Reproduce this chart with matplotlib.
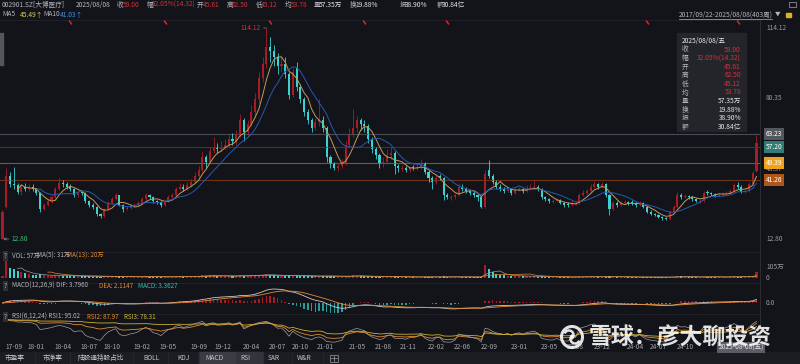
import numpy as np
import pandas as pd
import matplotlib.pyplot as plt
from matplotlib.patches import Rectangle, Circle, Arc
from matplotlib.transforms import blended_transform_factory

plt.rcParams['font.family'] = ['Noto Sans CJK SC', 'DejaVu Sans']

# ---- data (2-week candles) ----
opens = [12.8, 28.0, 43.0, 39.0, 38.5, 35.5, 38.0, 37.0, 38.0, 37.0,
         35.0, 27.0, 29.0, 31.0, 33.0, 37.0, 39.5, 39.0, 38.0, 37.0,
         34.0, 35.5, 35.0, 31.0, 29.0, 28.0, 25.0, 24.0, 27.0, 30.0,
         32.0, 33.8, 29.0, 27.0, 27.5, 28.5, 29.0, 30.0, 32.0, 34.0,
         33.0, 31.0, 30.5, 29.0, 31.0, 33.0, 34.0, 37.0, 38.0, 37.0,
         38.5, 40.0, 43.0, 46.0, 52.0, 50.0, 55.0, 57.0, 56.0, 57.0,
         58.0, 61.0, 60.0, 63.0, 70.0, 64.0, 68.0, 74.0, 80.0, 90.0,
         97.0, 105.0, 103.0, 100.0, 96.0, 97.0, 92.0, 82.0, 95.0, 86.0,
         80.0, 74.0, 70.0, 66.0, 69.0, 70.0, 66.0, 52.0, 49.0, 47.0,
         48.0, 49.0, 58.0, 63.0, 66.0, 70.0, 68.0, 67.0, 61.0, 56.0,
         53.0, 49.0, 50.0, 53.0, 54.0, 48.0, 46.5, 47.0, 46.0, 47.5,
         47.0, 47.5, 49.0, 45.0, 42.0, 40.0, 43.0, 42.0, 34.0, 32.5,
         33.0, 34.0, 38.0, 37.0, 36.0, 35.0, 34.0, 33.0, 28.0, 46.0,
         43.0, 40.0, 38.0, 37.0, 36.0, 37.0, 35.0, 36.5, 37.0, 36.0,
         37.0, 37.5, 38.0, 37.0, 33.0, 32.0, 30.5, 31.0, 31.5, 30.0,
         29.5, 29.0, 29.5, 30.0, 34.0, 35.0, 36.0, 38.0, 39.0, 38.0,
         39.0, 34.0, 27.0, 30.0, 29.0, 30.0, 30.5, 30.5, 30.0, 29.0,
         30.0, 28.0, 26.0, 25.0, 24.5, 23.5, 23.0, 22.5, 26.0, 28.0,
         34.0, 33.0, 33.5, 33.0, 32.0, 30.5, 31.0, 35.5, 35.0, 34.5,
         33.5, 34.0, 34.5, 35.0, 36.0, 38.5, 38.0, 35.5, 36.0, 39.0,
         45.61]
highs = [26.5, 47.0, 45.0, 47.5, 39.5, 39.0, 39.5, 39.0, 39.0, 37.5,
         35.5, 30.0, 32.0, 34.0, 38.0, 42.0, 41.0, 40.0, 39.0, 37.5,
         36.0, 36.5, 35.5, 31.5, 30.0, 28.5, 25.5, 27.5, 31.0, 33.0,
         35.0, 34.0, 29.5, 28.5, 29.5, 30.0, 31.0, 33.0, 35.0, 34.5,
         33.5, 31.5, 31.0, 32.0, 34.0, 35.0, 38.0, 39.5, 39.0, 40.0,
         41.5, 45.0, 48.0, 55.0, 53.0, 57.0, 62.0, 59.0, 60.0, 61.0,
         63.0, 63.5, 65.0, 73.0, 71.0, 70.0, 77.0, 83.0, 93.0, 100.0,
         114.12, 110.0, 106.0, 102.0, 101.0, 100.0, 93.0, 95.0, 98.0, 87.0,
         81.0, 75.0, 71.0, 71.0, 80.0, 72.0, 67.0, 53.0, 50.0, 49.5,
         51.0, 60.0, 66.0, 75.0, 72.0, 71.0, 70.0, 68.0, 62.0, 57.0,
         54.0, 52.0, 56.0, 57.0, 55.0, 49.0, 48.5, 48.0, 48.0, 48.5,
         49.0, 51.0, 50.0, 46.0, 43.0, 43.5, 44.0, 42.5, 35.0, 34.0,
         35.0, 39.5, 39.0, 38.0, 37.0, 36.0, 34.5, 33.5, 46.0, 50.7,
         44.0, 41.0, 39.0, 38.0, 38.0, 37.5, 37.5, 38.0, 37.5, 38.5,
         39.0, 41.0, 38.5, 37.5, 33.5, 32.5, 32.0, 32.5, 32.0, 30.5,
         30.5, 31.0, 31.0, 35.0, 36.5, 37.0, 39.0, 40.5, 39.5, 40.0,
         39.5, 34.5, 31.0, 31.0, 31.0, 31.5, 31.0, 31.5, 30.5, 31.0,
         30.5, 28.5, 26.5, 25.5, 25.0, 24.0, 23.5, 26.5, 29.0, 35.5,
         35.0, 34.5, 34.0, 33.5, 32.5, 32.0, 36.0, 36.5, 35.5, 35.0,
         35.0, 35.5, 36.0, 37.0, 39.5, 40.0, 38.5, 37.0, 40.0, 45.5,
         62.5]
lows = [12.8, 27.5, 38.0, 37.0, 34.5, 34.0, 36.0, 36.0, 36.0, 34.0,
        26.0, 26.5, 28.5, 30.0, 32.5, 36.5, 38.0, 37.0, 36.0, 33.0,
        33.0, 34.0, 30.0, 28.0, 27.0, 24.0, 23.0, 23.5, 26.5, 29.5,
        31.5, 28.5, 26.0, 26.5, 27.0, 28.0, 28.5, 29.5, 31.5, 32.0,
        30.0, 29.5, 28.0, 28.5, 30.5, 32.5, 33.5, 36.5, 36.0, 36.5,
        38.0, 39.5, 42.0, 45.0, 47.0, 49.0, 54.0, 54.0, 55.0, 56.0,
        57.0, 58.0, 58.0, 62.0, 60.0, 62.0, 67.0, 72.0, 78.0, 88.0,
        95.0, 98.0, 96.0, 92.0, 93.0, 90.0, 80.0, 81.0, 84.0, 78.0,
        72.0, 68.0, 64.0, 65.0, 67.0, 64.0, 50.0, 47.0, 46.0, 45.5,
        47.0, 48.5, 57.0, 62.0, 64.0, 65.0, 64.0, 59.0, 54.0, 51.0,
        47.0, 47.5, 49.0, 51.0, 44.0, 45.0, 45.5, 45.0, 45.0, 46.0,
        46.0, 46.5, 44.0, 40.0, 37.0, 39.0, 41.0, 31.5, 32.0, 31.5,
        32.0, 33.5, 36.0, 35.0, 34.0, 33.0, 31.0, 27.5, 27.8, 42.0,
        39.0, 37.0, 36.0, 35.0, 35.5, 34.0, 34.5, 36.0, 35.0, 35.5,
        36.5, 37.0, 36.0, 32.0, 31.0, 30.0, 30.0, 30.5, 29.5, 28.0,
        28.0, 28.5, 29.0, 29.5, 33.5, 34.5, 35.5, 37.5, 37.0, 37.5,
        33.0, 24.5, 26.5, 28.0, 28.5, 29.5, 29.0, 29.0, 28.0, 28.5,
        27.5, 25.5, 24.5, 24.0, 23.0, 22.0, 21.8, 22.0, 25.5, 27.5,
        32.0, 32.5, 32.0, 31.0, 30.5, 30.0, 30.5, 34.0, 33.5, 33.0,
        33.0, 33.5, 34.0, 34.5, 35.5, 37.0, 35.0, 35.0, 35.5, 38.5,
        45.12]
closes = [26.0, 43.0, 39.0, 38.5, 35.5, 38.0, 37.0, 38.0, 37.0, 35.0,
          27.0, 29.0, 31.0, 33.0, 37.0, 39.5, 39.0, 38.0, 37.0, 34.0,
          35.0, 35.0, 31.0, 29.0, 28.0, 25.0, 24.0, 27.0, 30.0, 32.0,
          33.8, 29.0, 27.0, 27.5, 28.5, 29.0, 30.0, 32.0, 34.0, 33.0,
          31.0, 30.5, 29.0, 31.0, 33.0, 34.0, 37.0, 38.0, 37.0, 38.5,
          40.0, 43.0, 46.0, 52.0, 50.0, 55.0, 57.0, 56.0, 57.0, 58.0,
          61.0, 60.0, 63.0, 70.0, 64.0, 68.0, 74.0, 80.0, 90.0, 97.0,
          105.0, 103.0, 100.0, 96.0, 97.0, 92.0, 82.0, 93.0, 86.0, 80.0,
          74.0, 70.0, 66.0, 69.0, 70.0, 66.0, 52.0, 49.0, 47.0, 48.0,
          49.0, 58.0, 63.0, 66.0, 70.0, 68.0, 67.0, 61.0, 56.0, 53.0,
          49.0, 50.0, 53.0, 54.0, 48.0, 47.0, 47.0, 46.0, 47.0, 47.0,
          47.5, 49.0, 45.0, 42.0, 40.0, 42.0, 42.0, 34.0, 33.0, 33.0,
          34.0, 38.0, 37.0, 36.0, 35.0, 34.0, 33.0, 28.0, 44.0, 43.0,
          40.0, 38.0, 37.0, 36.0, 37.0, 35.0, 36.5, 37.0, 36.0, 37.0,
          37.5, 38.0, 37.0, 33.0, 32.0, 31.0, 31.0, 31.5, 30.0, 29.0,
          29.0, 30.0, 30.0, 34.0, 35.0, 36.0, 38.0, 39.0, 38.0, 39.0,
          34.0, 27.0, 30.0, 29.0, 30.0, 30.5, 30.0, 30.0, 29.0, 30.0,
          28.0, 26.0, 25.0, 24.5, 23.5, 23.0, 22.5, 26.0, 28.0, 34.0,
          33.0, 33.5, 33.0, 32.0, 31.0, 31.0, 35.0, 35.0, 34.5, 34.0,
          34.0, 34.5, 35.0, 36.0, 38.5, 38.0, 35.5, 36.0, 39.0, 44.68,
          59.0]
volumes = [20, 170, 95, 90, 70, 55, 45, 40, 30, 28,
           35, 25, 22, 20, 28, 30, 22, 18, 16, 18,
           15, 14, 16, 14, 13, 15, 12, 14, 16, 15,
           18, 16, 12, 10, 10, 9, 10, 12, 14, 12,
           11, 10, 9, 10, 12, 11, 15, 14, 12, 13,
           15, 18, 20, 26, 22, 24, 25, 20, 18, 17,
           19, 16, 18, 25, 22, 20, 24, 28, 32, 30,
           34, 28, 24, 22, 20, 22, 25, 20, 22, 18,
           17, 15, 14, 16, 18, 15, 22, 18, 14, 12,
           13, 20, 22, 24, 20, 16, 14, 15, 14, 12,
           12, 10, 12, 11, 14, 10, 9, 9, 8, 9,
           9, 10, 11, 10, 11, 9, 9, 14, 10, 9,
           9, 12, 10, 9, 8, 8, 8, 12, 125, 85,
           55, 38, 30, 24, 22, 20, 18, 22, 16, 15,
           14, 16, 13, 14, 11, 10, 9, 9, 8, 8,
           8, 9, 8, 14, 12, 12, 14, 13, 11, 12,
           13, 16, 11, 9, 8, 8, 8, 7, 8, 8,
           8, 8, 7, 7, 7, 8, 8, 12, 13, 18,
           14, 11, 10, 9, 9, 8, 12, 10, 9, 9,
           8, 9, 10, 11, 14, 13, 12, 11, 15, 22,
           57]

tick_pos = [3, 9, 16, 23, 29, 37, 44, 52, 58.5, 66, 73, 79, 85.5, 94, 101,
            107.5, 115, 122, 129, 137, 145, 152, 159, 168, 174, 181]
tick_lab = ['17-09', '18-01', '18-04', '18-07', '18-10', '19-02', '19-05', '19-09',
            '19-12', '20-04', '20-07', '20-10', '21-01', '21-05', '21-08', '21-11',
            '22-02', '22-06', '22-09', '23-01', '23-05', '23-08', '23-12', '24-04',
            '24-07', '24-10']
event_idx = [18, 43, 71, 96, 118, 171, 195]

levels = [63.23, 57.20, 49.39, 41.26]
level_line = ['#4a4c53', '#27403f', '#7a5c22', '#6e3417']
level_box = ['#55575e', '#2f7d74', '#f0a21e', '#b0561a']
axis_prices = [114.12, 80.35, 48.57, 12.80]

tip_labels = ['收', '幅', '开', '高', '低', '均', '量', '换', '振', '额']
tip_values = ['59.00', '32.05%(14.32)', '45.61', '62.50', '45.12', '53.78',
              '57.35万', '19.88%', '38.90%', '30.84亿']
tabs = ['市盈率', '市净率', '陆股通持股占比', 'BOLL', 'KDJ', 'MACD', 'RSI', 'SAR', 'W&R']

BG = '#131419'
RED = '#d4303a'
UP = '#a81c26'
DOWN = '#3cd2d2'
GRAY = '#b4b5bc'
WHITE = '#e6e6ea'
ORANGE = '#e48a2c'
TEAL = '#36bcbc'
FS = 4.8
FT = 4.5  # panel titles

W, H = 800, 364
N = len(closes)
assert len(opens) == N and len(highs) == N and len(lows) == N and len(volumes) == N
k = np.arange(N)
o = np.array(opens)
h = np.array(highs)
l = np.array(lows)
c = np.array(closes)
v = np.array(volumes, dtype=float)
up = c >= o
cols = np.where(up, UP, DOWN)

fig = plt.figure(figsize=(8, 3.64), dpi=100)
fig.patch.set_facecolor(BG)


def box(x0, y0, x1, y1):
    return [x0 / W, 1 - y1 / H, (x1 - x0) / W, (y1 - y0) / H]


XL = (-0.663, 200.93)


def panel(y0, y1):
    a = fig.add_axes(box(0, y0, 760, y1))
    a.set_facecolor('none')
    a.set_xlim(*XL)
    for s in a.spines.values():
        s.set_visible(False)
    a.set_xticks([])
    a.set_yticks([])
    return a


# background / frame in pixel space
bgx = fig.add_axes([0, 0, 1, 1], zorder=-5)
bgx.set_xlim(0, W)
bgx.set_ylim(H, 0)
bgx.axis('off')
for yy in [20, 252, 283, 314]:
    bgx.plot([0, 760], [yy, yy], color='#23242a', lw=0.6)
bgx.plot([760, 760], [20, 352], color='#2c2d33', lw=0.7)
bgx.add_patch(Rectangle((0, 352), W, 12, color='#1c1d22'))
bgx.add_patch(Rectangle((199, 352), 37, 12, color='#3b3c44'))
bgx.add_patch(Rectangle((236, 352), 27, 12, color='#34353c'))
bgx.add_patch(Rectangle((0, 33), 2.5, 32, color='#55565c'))

# ---- main price panel ----
ax = panel(20, 250)
ax.set_ylim(7.52, 117.96)
for lv, lc in zip(levels, level_line):
    ax.axhline(lv, color=lc, lw=0.8)
ax.vlines(k, l, h, colors=cols, lw=0.6)
ax.bar(k, np.maximum(np.abs(c - o), 0.3), bottom=np.minimum(o, c), width=0.55,
       color=cols, linewidth=0)
ma5 = pd.Series(c).rolling(5).mean()
ma10 = pd.Series(c).rolling(10).mean()
ax.plot(k, ma5, color='#c39a58', lw=0.7)
ax.plot(k, ma10, color='#2459b0', lw=0.7)

ytr = ax.get_yaxis_transform()
for p in axis_prices:
    ax.text(1.0079, p, f'{p:.2f}', transform=ytr, ha='left',
            va='top' if p == 48.57 else 'center',
            fontsize=FS, color='#9a9ba2', clip_on=False, zorder=1)
for lv, bc in zip(levels, level_box):
    ax.text(1.0075, lv, f'{lv:.2f}', transform=ytr, ha='left', va='center',
            fontsize=FS, color='white', clip_on=False, zorder=3,
            bbox=dict(boxstyle='square,pad=0.3', fc=bc, ec='none'))

ih = int(np.argmax(h))
ax.annotate(f'{h[ih]:.2f}', xy=(ih, h[ih]), xytext=(-4, 0), textcoords='offset points',
            ha='right', va='center', fontsize=FS, color=RED,
            arrowprops=dict(arrowstyle='-', color='#8a8b90', lw=0.5, shrinkA=0, shrinkB=0))
il = int(np.argmin(l))
ax.annotate(f'{l[il]:.2f}', xy=(il + 0.2, l[il]), xytext=(6, 0), textcoords='offset points',
            ha='left', va='center', fontsize=FS, color='#33c26a',
            arrowprops=dict(arrowstyle='->', color='#8a8b90', lw=0.5, shrinkA=0, shrinkB=0,
                            mutation_scale=4))
etr = blended_transform_factory(ax.transData, ax.transAxes)
ax.plot(event_idx, [0.99] * len(event_idx), transform=etr, ls='none',
        marker=(2, 0, 35), ms=3.5, mew=1.1, color='#e0222a', clip_on=False)

# ---- volume ----
axv = panel(259, 281)
axv.set_ylim(-29, 181)
axv.bar(k, v, width=0.55, color=cols, linewidth=0)
axv.plot(k, pd.Series(v).rolling(5).mean(), color='#9c9da4', lw=0.5)
axv.plot(k, pd.Series(v).rolling(13).mean(), color=ORANGE, lw=0.5)
vtr = axv.get_yaxis_transform()
axv.text(1.0079, 110, '105万', transform=vtr, ha='left', va='center', fontsize=FS, color='#9a9ba2')
axv.text(1.0079, 0, '0', transform=vtr, ha='left', va='center', fontsize=FS, color='#9a9ba2')

# ---- MACD ----
cs = pd.Series(c)
dif = cs.ewm(span=12, adjust=False).mean() - cs.ewm(span=26, adjust=False).mean()
dea = dif.ewm(span=9, adjust=False).mean()
hist = 2 * (dif - dea)
axm = panel(288, 313)
m = max(dif.abs().max(), dea.abs().max(), hist.abs().max())
axm.set_ylim(-m * 10 / 14, m * 15 / 14)
axm.bar(k, hist, width=0.4, color=np.where(hist >= 0, UP, '#2a9a9a'), linewidth=0)
axm.plot(k, dif, color='#c9c9cf', lw=0.6)
axm.plot(k, dea, color=ORANGE, lw=0.6)
axm.text(1.0079, 0, '0.0', transform=axm.get_yaxis_transform(), ha='left', va='center',
         fontsize=FS, color='#9a9ba2')


# ---- RSI ----
def rsi(s, n):
    d = s.diff()
    g = d.clip(lower=0).ewm(alpha=1 / n, adjust=False).mean()
    a = d.abs().ewm(alpha=1 / n, adjust=False).mean()
    return 100 * g / a


axr = panel(319, 345)
axr.set_ylim(5, 102)
axr.plot(k, rsi(cs, 6), color='#9fa0a6', lw=0.5)
axr.plot(k, rsi(cs, 12), color=ORANGE, lw=0.6)
axr.plot(k, rsi(cs, 24), color='#c9b232', lw=0.6)
xtr = blended_transform_factory(axr.transData, axr.transAxes)
for tp, tl in zip(tick_pos, tick_lab):
    axr.text(tp, -0.08, tl, transform=xtr, ha='center', va='center', fontsize=FS,
             color='#a4a5ac', clip_on=False)

# ---- overlay texts ----
ov = fig.add_axes([0, 0, 1, 1], zorder=10)
ov.set_xlim(0, W)
ov.set_ylim(H, 0)
ov.axis('off')


def t(x, y, s, col, **kw):
    kw.setdefault('fontsize', FS)
    kw.setdefault('va', 'center')
    ov.text(x, y, s, color=col, **kw)


head = [(2, '002901.SZ[大博医疗]', GRAY), (76, '2025/08/08', GRAY),
        (117, '收', GRAY), (123, '59.00', RED), (147, '幅', GRAY), (152, '32.05%(14.32)', RED),
        (197, '开', GRAY), (203, '45.61', RED), (227, '高', GRAY), (232, '62.50', RED),
        (256, '低', GRAY), (261, '45.12', RED), (285, '均', GRAY), (291, '53.78', RED),
        (314, '量', GRAY), (319, '57.35万', WHITE), (350, '换', GRAY), (355, '19.88%', WHITE),
        (400, '振', GRAY), (405, '38.90%', WHITE), (437, '额', GRAY), (442, '30.84亿', WHITE)]
for x, s, col in head:
    t(x, 5, s, col)
t(2, 14.5, 'MA5', GRAY)
t(20, 14.5, '45.49↑', '#d8cc5a')
t(43, 14.5, 'MA10', GRAY)
t(60, 14.5, '41.03↑', '#3d8fe8')
t(679, 14.5, '2017/09/22-2025/08/08(403周)', GRAY)
ov.plot([679, 772], [18.5, 18.5], color=GRAY, lw=0.5)
t(775, 14.5, '▼', GRAY, fontsize=4)
ov.add_patch(Rectangle((786, 12.5), 5, 4, color='#e0b020'))
ov.add_patch(Rectangle((789, 1.5), 7, 5, fill=False, ec='#8c8d94', lw=0.6))

# tooltip box
ov.add_patch(Rectangle((677, 33), 69, 98, color='#25262b', alpha=0.96))
t(682, 41, '2025/08/08/五', WHITE)
for i, (lb, vl) in enumerate(zip(tip_labels, tip_values)):
    yy = 49.5 + i * 8.6
    t(682, yy, lb, GRAY)
    t(741, yy, vl, RED if i < 6 else WHITE, ha='right')

# panel titles
for yy in [256, 286, 317]:
    t(5.5, yy, '?', GRAY, ha='center', fontsize=FT,
      bbox=dict(boxstyle='square,pad=0.15', fc='#2e2f35', ec='none'))
t(12, 256, 'VOL: 57万', GRAY, fontsize=FT)
t(37, 256, 'MA(5): 31万', GRAY, fontsize=FT)
t(67, 256, 'MA(13): 20万', ORANGE, fontsize=FT)
t(12, 286, 'MACD(12,26,9) DIF: 3.7960', GRAY, fontsize=FT)
t(99, 286, 'DEA: 2.1147', ORANGE, fontsize=FT)
t(138, 286, 'MACD: 3.3627', TEAL, fontsize=FT)
t(12, 317, 'RSI(6,12,24) RSI1: 95.02', GRAY, fontsize=FT)
t(87, 317, 'RSI2: 87.97', ORANGE, fontsize=FT)
t(124, 317, 'RSI3: 78.31', '#d2bf3a', fontsize=FT)

# date box under the last bar
t(741, 347.5, '2025-08-08(五)', '#e8e8ec', ha='center',
  bbox=dict(boxstyle='square,pad=0.2', fc='#5c5d64', ec='none'))

# tab bar
tab_x = [5, 43, 78, 143, 177, 205, 240, 268, 297]
for x, s in zip(tab_x, tabs):
    t(x, 358, s, '#c4c5cb')
for x in [35, 70, 133, 168, 199, 263, 292, 323]:
    ov.plot([x, x], [353, 363], color='#2c2d33', lw=0.5)
ov.add_patch(Rectangle((330, 354.5), 8, 7, fill=False, ec='#9c9da4', lw=0.5))
ov.plot([334, 334], [355.5, 360.5], color='#9c9da4', lw=0.5)
ov.plot([331, 337], [358, 358], color='#9c9da4', lw=0.5)

# watermark
ov.add_patch(Circle((572, 337), 10.5, fill=False, ec='white', lw=2.2, alpha=0.88))
ov.add_patch(Arc((569, 335), 9, 9, theta1=200, theta2=60, ec='white', lw=1.8, alpha=0.88))
ov.add_patch(Arc((575, 339), 9, 9, theta1=20, theta2=240, ec='white', lw=1.8, alpha=0.88))
t(589, 337, '雪球：彦大聊投资', 'white', fontsize=16.5, fontweight='bold', alpha=0.88)

fig.savefig('out.png', dpi=100, facecolor=BG)
